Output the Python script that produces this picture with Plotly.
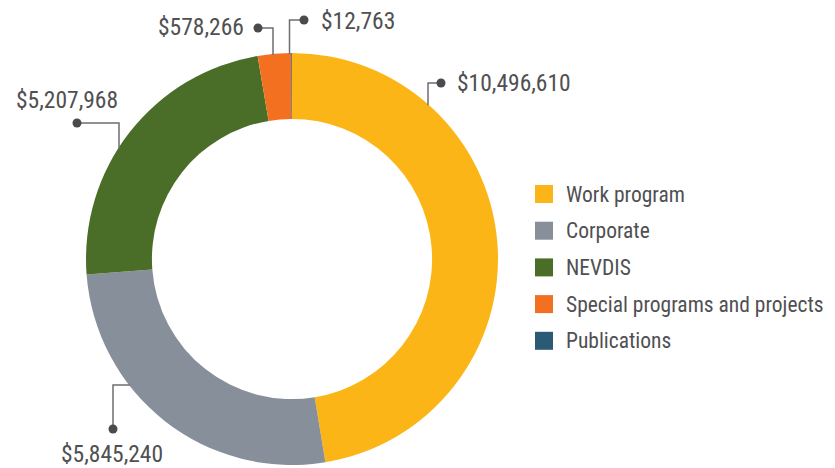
import plotly.graph_objects as go

# ===================== Data =====================
categories = ["Work program", "Corporate", "NEVDIS", "Special programs and projects", "Publications"]
amounts = [10496610, 5845240, 5207968, 578266, 12763]
colors = ["#FBB516", "#87909A", "#4A6E28", "#F37021", "#2A5A74"]

W, H = 835, 468
FONT = "Liberation Sans Narrow, Roboto Condensed, Arial Narrow, Roboto, sans-serif"
TEXT_COLOR = "#505052"
LINE_COLOR = "#6d6e71"
DOT_COLOR = "#4a4a4f"

# donut geometry in pixels
cx, cy, R = 292, 259, 206


def px(x):
    return x / W


def py(y):
    return 1 - y / H


def edge_y(x):
    return cy - (R ** 2 - (x - cx) ** 2) ** 0.5


def edge_x(y):
    return cx - (R ** 2 - (y - cy) ** 2) ** 0.5


fig = go.Figure(go.Pie(
    labels=categories,
    values=amounts,
    marker=dict(colors=colors, line=dict(width=0)),
    hole=0.68,
    sort=False,
    direction="clockwise",
    rotation=0,
    textinfo="none",
    hoverinfo="label+value",
    showlegend=False,
    domain=dict(x=[px(cx - R), px(cx + R)], y=[py(cy + R), py(cy - R)]),
))

# ===================== Leader lines + labels =====================
fmt = ["${:,}".format(v) for v in amounts]
# (path points, dot, label position, anchor)
leaders = [
    ([(428, edge_y(428) + 1), (428, 83), (441, 83)], (441, 83), (455, 83), "left"),
    ([(edge_x(385) + 1, 385), (113, 385), (113, 429)], (113, 429), (112, 454), "center"),
    ([(119, edge_y(119) + 1), (119, 123), (77, 123)], (77, 123), (14, 100), "left"),
    ([(273, edge_y(273) + 1), (273, 28), (258, 28)], (258, 28), (246, 27), "right"),
    ([(289.5, edge_y(289.5) + 1), (289.5, 20), (304, 20)], (304, 20), (319, 21), "left"),
]

shapes = []
annotations = []
for i, (pts, dot, lab, xa) in enumerate(leaders):
    path = "M " + " L ".join(f"{px(x)},{py(y)}" for x, y in pts)
    shapes.append(dict(type="path", path=path, xref="paper", yref="paper",
                       line=dict(color=LINE_COLOR, width=1.5)))
    shapes.append(dict(type="circle", xref="paper", yref="paper",
                       xsizemode="pixel", ysizemode="pixel",
                       xanchor=px(dot[0]), yanchor=py(dot[1]),
                       x0=-4.5, x1=4.5, y0=-4.5, y1=4.5,
                       fillcolor=DOT_COLOR, line=dict(width=0)))
    annotations.append(dict(x=px(lab[0]), y=py(lab[1]), xref="paper", yref="paper",
                            text=fmt[i], showarrow=False, xanchor=xa, yanchor="middle",
                            font=dict(size=23.5, color=TEXT_COLOR, family=FONT)))

# ===================== Legend =====================
leg_x, leg_y0, leg_dy, sq = 535, 194, 36.7, 18
for i, (name, c) in enumerate(zip(categories, colors)):
    yc = leg_y0 + i * leg_dy
    shapes.append(dict(type="rect", xref="paper", yref="paper",
                       x0=px(leg_x), x1=px(leg_x + sq), y0=py(yc + sq / 2), y1=py(yc - sq / 2),
                       fillcolor=c, line=dict(width=0)))
    annotations.append(dict(x=px(564), y=py(yc), xref="paper", yref="paper",
                            text=name, showarrow=False, xanchor="left", yanchor="middle",
                            font=dict(size=21.5, color=TEXT_COLOR, family=FONT)))

fig.update_layout(
    width=W, height=H,
    margin=dict(l=0, r=0, t=0, b=0),
    paper_bgcolor="white", plot_bgcolor="white",
    shapes=shapes, annotations=annotations,
    font=dict(family=FONT),
)

# drop the default page margin so the figure sits at the window's corner
fig.write_html("out.html", config={"displayModeBar": False},
               post_script="document.body.style.margin='0';")
